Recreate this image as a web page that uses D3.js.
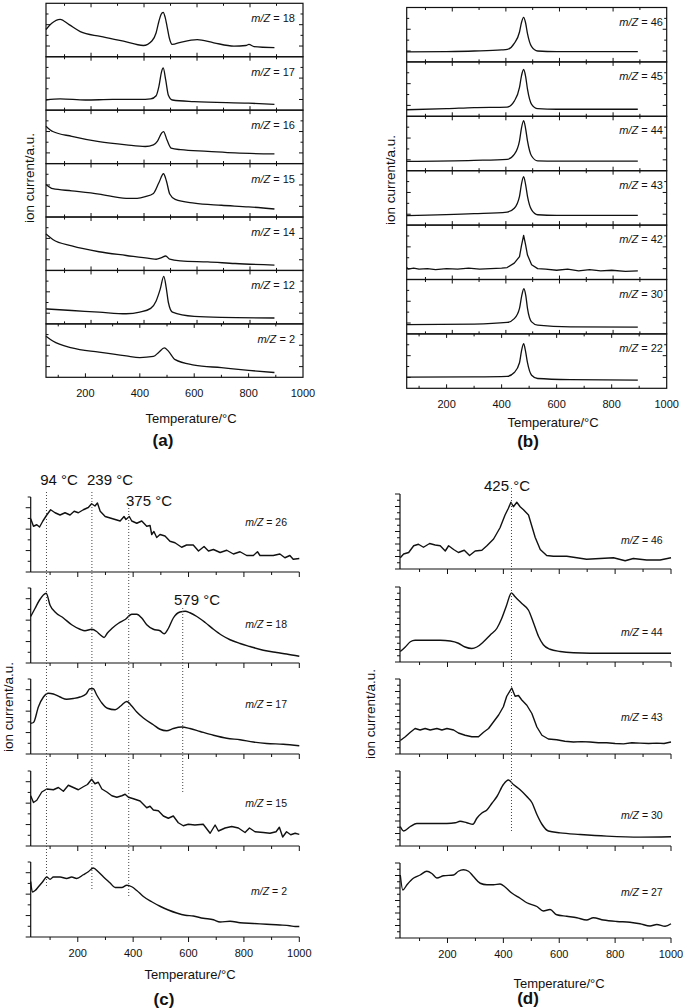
<!DOCTYPE html>
<html><head><meta charset="utf-8">
<script src="https://cdn.jsdelivr.net/npm/d3@7"></script>
<style>body{margin:0;background:#fff}svg{display:block}text{font-family:"Liberation Sans",Arial,Helvetica,sans-serif;fill:#111}</style>
</head><body><svg id="fig" width="685" height="1008"></svg>
<script>
// ---------------- DATA ----------------
const tempTicks=[100,200,300,400,500,600,700,800,900,1000];
const tickLabels=[200,400,600,800,1000];
const domainLabelled=[55,1000], domainUpper=[30,1000], domainCD=[30,1000];

const aLabels=["18","17","16","15","14","12","2"];
const a18=[[55,0.51],[75,0.62],[107,0.70],[140,0.60],[181,0.47],[255,0.38],[340,0.29],[413,0.21],[445,0.30],[460,0.45],[470,0.66],[478,0.79],[486,0.83],[493,0.74],[500,0.57],[508,0.36],[519,0.23],[550,0.27],[611,0.32],[672,0.26],[746,0.20],[790,0.21],[801,0.23],[820,0.19],[895,0.17]];
const a17=[[55,0.19],[107,0.21],[200,0.19],[300,0.20],[400,0.20],[440,0.21],[460,0.27],[470,0.44],[480,0.72],[486,0.79],[495,0.57],[505,0.28],[520,0.19],[600,0.16],[800,0.13],[895,0.11]];
const a16=[[55,0.70],[80,0.60],[150,0.51],[250,0.41],[350,0.35],[420,0.32],[450,0.35],[465,0.42],[480,0.57],[487,0.60],[500,0.44],[515,0.29],[550,0.26],[650,0.23],[750,0.20],[895,0.18]];
const a15=[[55,0.61],[80,0.53],[150,0.49],[250,0.43],[350,0.35],[390,0.35],[420,0.38],[450,0.44],[470,0.64],[487,0.81],[498,0.67],[510,0.43],[530,0.33],[600,0.26],[700,0.22],[800,0.19],[895,0.15]];
const a14=[[55,0.68],[80,0.58],[150,0.46],[250,0.35],[350,0.28],[440,0.22],[460,0.21],[480,0.24],[495,0.27],[510,0.21],[550,0.18],[650,0.16],[750,0.13],[895,0.10]];
const a12=[[55,0.28],[150,0.25],[250,0.22],[350,0.19],[400,0.22],[440,0.29],[460,0.43],[475,0.65],[488,0.89],[497,0.68],[505,0.40],[520,0.22],[600,0.14],[700,0.12],[895,0.11]];
const a2=[[55,0.77],[80,0.68],[150,0.55],[250,0.47],[350,0.40],[400,0.37],[450,0.39],[470,0.47],[490,0.55],[505,0.49],[530,0.33],[600,0.23],[700,0.18],[800,0.13],[895,0.09]];

const bLabels=["46","45","44","43","42","30","22"];
const b46=[[55,0.185],[200,0.19],[300,0.20],[400,0.22],[421,0.23],[446,0.34],[465,0.55],[472,0.72],[480,0.82],[487,0.72],[494,0.52],[509,0.28],[531,0.20],[600,0.19],[895,0.19]];
const b45=[[55,0.12],[200,0.14],[300,0.16],[420,0.17],[446,0.28],[465,0.53],[472,0.74],[480,0.86],[487,0.74],[494,0.50],[509,0.22],[531,0.14],[600,0.13],[895,0.13]];
const b44=[[55,0.17],[300,0.19],[420,0.21],[446,0.30],[465,0.55],[472,0.78],[480,0.92],[487,0.78],[494,0.55],[509,0.27],[531,0.18],[600,0.175],[895,0.175]];
const b43=[[55,0.175],[300,0.21],[420,0.24],[446,0.31],[465,0.53],[472,0.75],[480,0.89],[487,0.75],[494,0.53],[509,0.28],[531,0.19],[600,0.18],[895,0.18]];
const b42=[[55,0.22],[60,0.19],[80,0.21],[100,0.19],[130,0.20],[160,0.18],[200,0.20],[240,0.19],[280,0.21],[320,0.19],[360,0.20],[400,0.21],[420,0.22],[446,0.30],[465,0.42],[472,0.62],[480,0.81],[487,0.64],[494,0.45],[509,0.27],[531,0.20],[560,0.19],[600,0.17],[640,0.19],[680,0.16],[720,0.18],[760,0.16],[800,0.17],[850,0.15],[895,0.16]];
const b30=[[55,0.17],[300,0.18],[420,0.21],[446,0.28],[465,0.47],[473,0.70],[481,0.83],[488,0.70],[494,0.47],[509,0.22],[531,0.16],[650,0.13],[895,0.125]];
const b22=[[55,0.205],[300,0.21],[420,0.22],[446,0.29],[465,0.47],[472,0.68],[480,0.82],[487,0.68],[494,0.47],[509,0.24],[531,0.18],[650,0.16],[895,0.15]];

const cLabels=["26","18","17","15","2"];
const c26=[[30,0.71],[40,0.61],[52,0.63],[62,0.60],[74,0.68],[88,0.76],[102,0.83],[118,0.79],[136,0.76],[154,0.79],[172,0.76],[187,0.81],[202,0.79],[220,0.83],[238,0.86],[250,0.91],[262,0.88],[271,0.92],[281,0.81],[299,0.74],[317,0.72],[335,0.70],[353,0.68],[367,0.74],[374,0.70],[386,0.74],[395,0.68],[413,0.65],[431,0.68],[449,0.61],[461,0.62],[467,0.50],[475,0.54],[485,0.46],[497,0.50],[515,0.48],[533,0.41],[551,0.39],[575,0.33],[593,0.36],[617,0.36],[636,0.28],[656,0.34],[672,0.28],[690,0.30],[714,0.26],[738,0.29],[762,0.24],[786,0.27],[810,0.22],[834,0.22],[849,0.27],[858,0.22],[882,0.22],[906,0.22],[930,0.24],[948,0.19],[966,0.22],[978,0.17],[1000,0.18]];
const c18=[[30,0.62],[46,0.73],[62,0.84],[86,0.93],[100,0.77],[118,0.68],[148,0.60],[178,0.51],[208,0.45],[226,0.43],[250,0.45],[268,0.42],[280,0.38],[295,0.34],[307,0.40],[323,0.46],[347,0.53],[371,0.58],[395,0.65],[413,0.65],[431,0.60],[449,0.51],[473,0.45],[497,0.43],[512,0.39],[527,0.46],[545,0.60],[569,0.68],[588,0.69],[605,0.67],[630,0.62],[660,0.54],[690,0.45],[720,0.37],[750,0.31],[786,0.26],[822,0.22],[870,0.17],[918,0.14],[954,0.12],[1000,0.09]];
const c17=[[30,0.41],[40,0.42],[58,0.63],[76,0.76],[94,0.81],[112,0.80],[136,0.76],[160,0.73],[184,0.74],[208,0.76],[230,0.80],[244,0.87],[256,0.87],[268,0.79],[287,0.68],[307,0.61],[335,0.59],[355,0.64],[377,0.70],[395,0.64],[413,0.56],[437,0.48],[473,0.39],[497,0.33],[521,0.31],[545,0.34],[575,0.36],[605,0.34],[642,0.30],[690,0.25],[738,0.21],[786,0.19],[834,0.16],[882,0.14],[942,0.13],[1000,0.11]];
const c15=[[30,0.67],[40,0.58],[52,0.61],[70,0.72],[88,0.76],[112,0.75],[130,0.78],[148,0.73],[166,0.81],[184,0.78],[202,0.75],[220,0.79],[235,0.82],[250,0.89],[262,0.83],[274,0.85],[287,0.76],[305,0.72],[323,0.67],[341,0.65],[359,0.67],[371,0.69],[383,0.65],[401,0.63],[425,0.60],[449,0.51],[461,0.53],[473,0.48],[491,0.47],[509,0.40],[527,0.37],[545,0.40],[563,0.31],[581,0.27],[599,0.29],[623,0.28],[653,0.29],[678,0.17],[696,0.28],[708,0.20],[732,0.24],[756,0.26],[780,0.24],[804,0.18],[820,0.24],[840,0.19],[870,0.18],[894,0.17],[916,0.19],[928,0.25],[940,0.12],[954,0.19],[969,0.15],[985,0.17],[1000,0.155]];
const c2=[[30,0.74],[36,0.60],[46,0.62],[58,0.67],[74,0.74],[88,0.80],[100,0.77],[112,0.80],[136,0.80],[160,0.78],[178,0.80],[196,0.78],[220,0.83],[238,0.87],[256,0.92],[274,0.87],[293,0.80],[317,0.72],[335,0.66],[359,0.66],[377,0.69],[395,0.67],[413,0.62],[437,0.54],[467,0.47],[497,0.41],[527,0.36],[557,0.32],[588,0.29],[617,0.28],[653,0.25],[690,0.23],[714,0.20],[750,0.21],[786,0.19],[834,0.18],[882,0.17],[930,0.16],[966,0.15],[985,0.14],[1000,0.14]];
const cPeakLines=[87,251,384,579];
const cPeakTexts=["94 °C","239 °C","375 °C","579 °C"];

const dLabels=["46","44","43","30","27"];
const d46=[[31,0.15],[43,0.20],[61,0.22],[79,0.31],[96,0.33],[114,0.29],[136,0.34],[156,0.32],[174,0.31],[192,0.24],[204,0.31],[222,0.26],[239,0.22],[260,0.25],[279,0.18],[299,0.24],[323,0.25],[341,0.31],[365,0.40],[388,0.55],[406,0.72],[418,0.81],[427,0.89],[436,0.83],[448,0.89],[460,0.83],[472,0.79],[490,0.72],[502,0.57],[514,0.42],[532,0.26],[555,0.18],[579,0.17],[627,0.17],[663,0.15],[698,0.13],[746,0.14],[794,0.15],[836,0.11],[865,0.14],[913,0.12],[961,0.12],[1000,0.15]];
const d44=[[31,0.14],[49,0.20],[67,0.27],[84,0.29],[126,0.29],[174,0.29],[210,0.28],[239,0.25],[263,0.20],[287,0.18],[305,0.20],[329,0.27],[353,0.36],[377,0.45],[394,0.58],[410,0.74],[429,0.92],[442,0.87],[466,0.78],[490,0.69],[508,0.52],[526,0.34],[543,0.23],[567,0.17],[603,0.14],[651,0.124],[770,0.116],[1000,0.116]];
const d43=[[31,0.18],[49,0.23],[67,0.29],[84,0.34],[102,0.32],[120,0.34],[138,0.32],[162,0.34],[180,0.32],[198,0.34],[222,0.32],[239,0.28],[263,0.25],[287,0.23],[311,0.23],[329,0.29],[347,0.34],[365,0.43],[383,0.52],[400,0.63],[412,0.77],[430,0.88],[442,0.77],[454,0.78],[466,0.72],[484,0.65],[502,0.54],[520,0.36],[538,0.25],[561,0.20],[591,0.19],[620,0.17],[651,0.16],[680,0.165],[710,0.16],[740,0.15],[770,0.15],[800,0.14],[830,0.135],[860,0.15],[889,0.145],[920,0.14],[949,0.145],[975,0.14],[1000,0.16]];
const d30=[[31,0.26],[43,0.20],[67,0.26],[90,0.30],[138,0.30],[198,0.30],[228,0.31],[245,0.33],[269,0.31],[291,0.29],[305,0.37],[323,0.44],[341,0.48],[359,0.57],[377,0.66],[400,0.82],[418,0.88],[436,0.82],[460,0.75],[484,0.66],[502,0.58],[520,0.42],[538,0.29],[561,0.20],[603,0.175],[675,0.154],[770,0.132],[889,0.118],[1000,0.123]];
const d27=[[31,0.84],[40,0.64],[55,0.71],[79,0.80],[102,0.84],[126,0.89],[144,0.86],[162,0.80],[186,0.83],[222,0.84],[239,0.89],[257,0.91],[275,0.89],[293,0.82],[317,0.73],[341,0.71],[365,0.71],[388,0.72],[406,0.68],[430,0.60],[460,0.53],[484,0.47],[520,0.42],[543,0.36],[567,0.38],[591,0.31],[627,0.29],[663,0.27],[698,0.24],[722,0.27],[758,0.24],[806,0.22],[853,0.21],[889,0.19],[925,0.16],[949,0.18],[979,0.156],[1000,0.19]];
const dPeakLines=[429];
const dPeakTexts=["425 °C"];

// ---------------- DRAW ----------------
const svg=d3.select("#fig");
const SW=1.2;
function mzLabel(g,x,y,num,size){
  const t=g.append("text").attr("x",x).attr("y",y).attr("text-anchor","end").style("font-size",size+"px");
  t.append("tspan").style("font-style","italic").text("m/Z");
  t.append("tspan").text(" = "+num);
}
function yLabel(x,y){
  svg.append("text").attr("transform",`translate(${x},${y}) rotate(-90)`).attr("text-anchor","middle")
    .attr("dy","0.35em").style("font-size","13.5px").text("ion current/a.u.");
}
function bottomText(cfg){
  svg.append("text").attr("x",cfg.titleX).attr("y",cfg.titleY).attr("text-anchor","middle").style("font-size","13px").text("Temperature/°C");
  svg.append("text").attr("x",cfg.letterX).attr("y",cfg.letterY).attr("text-anchor","middle").style("font-size","17px").style("font-weight","bold").text(cfg.letter);
}

function framedPanel(cfg){
  const g=svg.append("g");
  const xB=d3.scaleLinear().domain(domainLabelled).range([cfg.x0,cfg.x1]);
  const xU=d3.scaleLinear().domain(domainUpper).range([cfg.x0,cfg.x1]);
  const n=cfg.series.length;
  cfg.series.forEach((s,i)=>{
    const top=cfg.y0+i*cfg.h, bot=top+cfg.h;
    const y=d3.scaleLinear().domain([0,1]).range([bot,top]);
    const xt=i===n-1?xB:xU;
    tempTicks.forEach(t=>{
      const xp=xt(t); if(xp<=cfg.x0+0.5||xp>=cfg.x1-0.5) return;
      const L=t%200===0?4:2.5;
      g.append("line").attr("x1",xp).attr("x2",xp).attr("y1",bot).attr("y2",bot-L).attr("stroke","#111").attr("stroke-width",1);
      g.append("line").attr("x1",xp).attr("x2",xp).attr("y1",top).attr("y2",top+L).attr("stroke","#111").attr("stroke-width",1);
    });
    [0.2,0.4,0.6,0.8].forEach((f,k)=>{
      const yp=y(f), L=k%2===0?4:2.5;
      g.append("line").attr("x1",cfg.x0).attr("x2",cfg.x0+L).attr("y1",yp).attr("y2",yp).attr("stroke","#111").attr("stroke-width",1);
      g.append("line").attr("x1",cfg.x1).attr("x2",cfg.x1-L).attr("y1",yp).attr("y2",yp).attr("stroke","#111").attr("stroke-width",1);
    });
    const line=d3.line().x(d=>xB(d[0])).y(d=>y(d[1])).curve(cfg.noisy.includes(i)?d3.curveLinear:d3.curveMonotoneX);
    g.append("path").datum(s).attr("d",line).attr("fill","none").attr("stroke","#111").attr("stroke-width",1.3).attr("stroke-linejoin","round");
    mzLabel(g,cfg.labRight,top+cfg.labDy,cfg.labels[i],11);
  });
  g.append("g").selectAll("rect").data(cfg.series).join("rect")
    .attr("x",cfg.x0).attr("y",(d,i)=>cfg.y0+i*cfg.h).attr("width",cfg.x1-cfg.x0).attr("height",cfg.h)
    .attr("fill","none").attr("stroke","#111").attr("stroke-width",SW);
  const by=cfg.y0+n*cfg.h;
  tickLabels.forEach(t=>{
    g.append("text").attr("x",xB(t)).attr("y",cfg.tickY).attr("text-anchor","middle").style("font-size","11px").text(t);
  });
  bottomText(cfg);
  yLabel(cfg.ylabX,cfg.ylabY);
}

function openPanel(cfg){
  const g=svg.append("g");
  const x=d3.scaleLinear().domain(domainCD).range([cfg.x0,cfg.x1]);
  const n=cfg.series.length;
  cfg.series.forEach((s,i)=>{
    const top=cfg.tops[i], bot=top+cfg.h;
    const y=d3.scaleLinear().domain([0,1]).range([bot,top]);
    g.append("line").attr("x1",cfg.x0).attr("x2",cfg.x0).attr("y1",top).attr("y2",bot).attr("stroke","#111").attr("stroke-width",SW);
    g.append("line").attr("x1",cfg.x0).attr("x2",cfg.x1).attr("y1",bot).attr("y2",bot).attr("stroke","#111").attr("stroke-width",SW);
    for(let k=0;k<=cfg.yTicks;k++){
      const yp=bot-k*cfg.h/cfg.yTicks, L=k%2===0?5:3;
      g.append("line").attr("x1",cfg.x0).attr("x2",cfg.x0-L).attr("y1",yp).attr("y2",yp).attr("stroke","#111").attr("stroke-width",1);
    }
    tempTicks.forEach(t=>{
      const L=t%200===0?5:3;
      g.append("line").attr("x1",x(t)).attr("x2",x(t)).attr("y1",bot).attr("y2",bot+L).attr("stroke","#111").attr("stroke-width",1);
    });
    const line=d3.line().x(d=>x(d[0])).y(d=>y(d[1])).curve(cfg.noisy.includes(i)?d3.curveLinear:d3.curveMonotoneX);
    g.append("path").datum(s).attr("d",line).attr("fill","none").attr("stroke","#111").attr("stroke-width",1.4).attr("stroke-linejoin","round");
    mzLabel(g,cfg.labRight,top+cfg.labDy[i]+3.5,cfg.labels[i],10.5);
  });
  cfg.peaks.forEach((p,k)=>{
    g.append("line").attr("x1",x(p)).attr("x2",x(p)).attr("y1",cfg.peakY[k][0]).attr("y2",cfg.peakY[k][1])
      .attr("stroke","#444").attr("stroke-width",1).attr("stroke-dasharray","1,2");
    g.append("text").attr("x",cfg.peakTextPos[k][0]).attr("y",cfg.peakTextPos[k][1]).attr("text-anchor",cfg.peakTextPos[k][2])
      .style("font-size","15px").text(cfg.peakTexts[k]);
  });
  tickLabels.forEach(t=>{
    g.append("text").attr("x",x(t)).attr("y",cfg.tickY).attr("text-anchor","middle").style("font-size","11px").text(t);
  });
  bottomText(cfg);
  yLabel(cfg.ylabX,cfg.ylabY);
}

framedPanel({x0:46,x1:303,y0:3.3,h:53.43,series:[a18,a17,a16,a15,a14,a12,a2],labels:aLabels,noisy:[],
  labRight:295,labDy:19,tickY:397,titleX:191,titleY:423,letter:"(a)",letterX:163,letterY:446,ylabX:29,ylabY:178});
framedPanel({x0:406.7,x1:666.7,y0:7.5,h:54.4,series:[b46,b45,b44,b43,b42,b30,b22],labels:bLabels,noisy:[4],
  labRight:663,labDy:18,tickY:408,titleX:553,titleY:427,letter:"(b)",letterX:528,letterY:446.5,ylabX:390,ylabY:180});
openPanel({x0:30.7,x1:299.3,tops:[497,588,679,771,862],h:75,yTicks:7,series:[c26,c18,c17,c15,c2],labels:cLabels,noisy:[0,3],
  labRight:287,labDy:[25,36,25,32,29],tickY:957,titleX:190,titleY:979,letter:"(c)",letterX:164,letterY:1005,ylabX:8,ylabY:707,
  peaks:cPeakLines,peakTexts:cPeakTexts,peakY:[[492,888],[492,890],[505,897],[608,793]],
  peakTextPos:[[59,485,"middle"],[110,485,"middle"],[126,505.5,"start"],[197,605,"middle"]]});
openPanel({x0:400,x1:671,tops:[494,587,679,771,863],h:75,yTicks:12,series:[d46,d44,d43,d30,d27],labels:dLabels,noisy:[0,2],
  labRight:662.7,labDy:[46,45,38,44,29],tickY:958,titleX:559,titleY:988,letter:"(d)",letterX:528,letterY:1004,ylabX:370,ylabY:714,
  peaks:dPeakLines,peakTexts:dPeakTexts,peakY:[[488,831]],peakTextPos:[[507,491,"middle"]]});
</script></body></html>
